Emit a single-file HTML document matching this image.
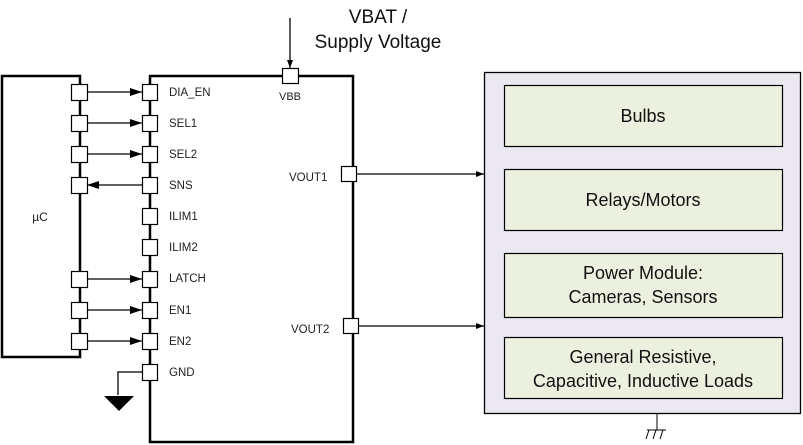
<!DOCTYPE html>
<html><head><meta charset="utf-8"><style>
html,body{margin:0;padding:0;background:#fff;}
svg{display:block;font-family:"Liberation Sans",Arial,sans-serif;}
</style></head><body>
<svg width="803" height="445" viewBox="0 0 803 445" xmlns="http://www.w3.org/2000/svg">
<defs>
<marker id="ar" markerWidth="12" markerHeight="8" refX="12" refY="4" orient="auto" markerUnits="userSpaceOnUse"><path d="M0,0 L12,4 L0,8 Z" fill="#000"/></marker>
<marker id="ar2" markerWidth="8" markerHeight="6" refX="8" refY="3" orient="auto" markerUnits="userSpaceOnUse"><path d="M0,0 L8,3 L0,6 Z" fill="#000"/></marker>
</defs>
<!-- uC -->
<rect x="2" y="76" width="78" height="281" fill="#fff" stroke="#000" stroke-width="2.5"/>
<text x="40" y="221" font-size="12" text-anchor="middle" fill="#222">µC</text>
<!-- chip -->
<rect x="150" y="76" width="203" height="366" fill="#fff" stroke="#000" stroke-width="2.5"/>
<!-- VBAT -->
<text x="378" y="23" font-size="19" text-anchor="middle" fill="#111">VBAT /</text>
<text x="378" y="48" font-size="19" text-anchor="middle" fill="#111">Supply Voltage</text>
<line x1="290" y1="18" x2="290" y2="68" stroke="#000" stroke-width="1.3" marker-end="url(#ar2)"/>
<rect x="282.5" y="68.5" width="16" height="15" fill="#fff" stroke="#000" stroke-width="1.2"/>
<text x="290" y="100" font-size="11" text-anchor="middle" fill="#222">VBB</text>
<!-- arrows uC->chip -->
<g stroke="#000" stroke-width="1.3" fill="none">
<line x1="87" y1="92" x2="142" y2="92" marker-end="url(#ar)"/>
<line x1="87" y1="123" x2="142" y2="123" marker-end="url(#ar)"/>
<line x1="87" y1="154" x2="142" y2="154" marker-end="url(#ar)"/>
<line x1="142" y1="185" x2="87" y2="185" marker-end="url(#ar)"/>
<line x1="87" y1="279" x2="142" y2="279" marker-end="url(#ar)"/>
<line x1="87" y1="310" x2="142" y2="310" marker-end="url(#ar)"/>
<line x1="87" y1="341" x2="142" y2="341" marker-end="url(#ar)"/>
<polyline points="142,372 118,372 118,395"/>
<line x1="357" y1="174" x2="484" y2="174" marker-end="url(#ar2)"/>
<line x1="357" y1="326" x2="484" y2="326" marker-end="url(#ar2)"/>
</g>
<path d="M104,396 L134,396 L119,411 Z" fill="#000"/>
<!-- uC pins -->
<g fill="#fff" stroke="#000" stroke-width="1.2">
<rect x="71.5" y="84.5" width="16" height="16"/>
<rect x="71.5" y="115.5" width="16" height="16"/>
<rect x="71.5" y="146.5" width="16" height="16"/>
<rect x="71.5" y="177.5" width="16" height="16"/>
<rect x="71.5" y="271.5" width="16" height="16"/>
<rect x="71.5" y="302.5" width="16" height="16"/>
<rect x="71.5" y="333.5" width="16" height="16"/>
<!-- chip pins -->
<rect x="142.5" y="84.5" width="15" height="16"/>
<rect x="142.5" y="115.5" width="15" height="16"/>
<rect x="142.5" y="146.5" width="15" height="16"/>
<rect x="142.5" y="177.5" width="15" height="16"/>
<rect x="142.5" y="208.5" width="15" height="16"/>
<rect x="142.5" y="239.5" width="15" height="16"/>
<rect x="142.5" y="271.5" width="15" height="16"/>
<rect x="142.5" y="302.5" width="15" height="16"/>
<rect x="142.5" y="333.5" width="15" height="16"/>
<rect x="142.5" y="364.5" width="15" height="16"/>
<rect x="341.5" y="166.5" width="15" height="15"/>
<rect x="343.5" y="318.5" width="15" height="15"/>
</g>
<g font-size="11.5" fill="#222">
<text x="169" y="96">DIA_EN</text>
<text x="169" y="127">SEL1</text>
<text x="169" y="158">SEL2</text>
<text x="169" y="189">SNS</text>
<text x="169" y="220">ILIM1</text>
<text x="169" y="251">ILIM2</text>
<text x="169" y="282">LATCH</text>
<text x="169" y="314">EN1</text>
<text x="169" y="345">EN2</text>
<text x="169" y="376">GND</text>
<text x="289" y="181">VOUT1</text>
<text x="291" y="333">VOUT2</text>
</g>
<!-- loads -->
<rect x="484.5" y="72.5" width="316" height="341" fill="#ebe8f0" stroke="#000" stroke-width="1.3"/>
<g fill="#ebf1de" stroke="#000" stroke-width="1.2">
<rect x="504.5" y="85.5" width="278" height="61"/>
<rect x="504.5" y="169.5" width="278" height="61"/>
<rect x="504.5" y="253.5" width="278" height="64"/>
<rect x="504.5" y="337.5" width="278" height="61"/>
</g>
<g font-size="18" fill="#111" text-anchor="middle">
<text x="643" y="122">Bulbs</text>
<text x="643" y="206">Relays/Motors</text>
<text x="643" y="279">Power Module:</text>
<text x="643" y="303">Cameras, Sensors</text>
<text x="643" y="363">General Resistive,</text>
<text x="643" y="387">Capacitive, Inductive Loads</text>
</g>
<g stroke="#000" stroke-width="1" fill="none">
<line x1="657" y1="414" x2="657" y2="430"/>
<line x1="647" y1="430" x2="666" y2="430"/>
<line x1="649" y1="430" x2="646" y2="439"/>
<line x1="656" y1="430" x2="653" y2="439"/>
<line x1="663" y1="430" x2="660" y2="439"/>
</g>
</svg>
</body></html>
